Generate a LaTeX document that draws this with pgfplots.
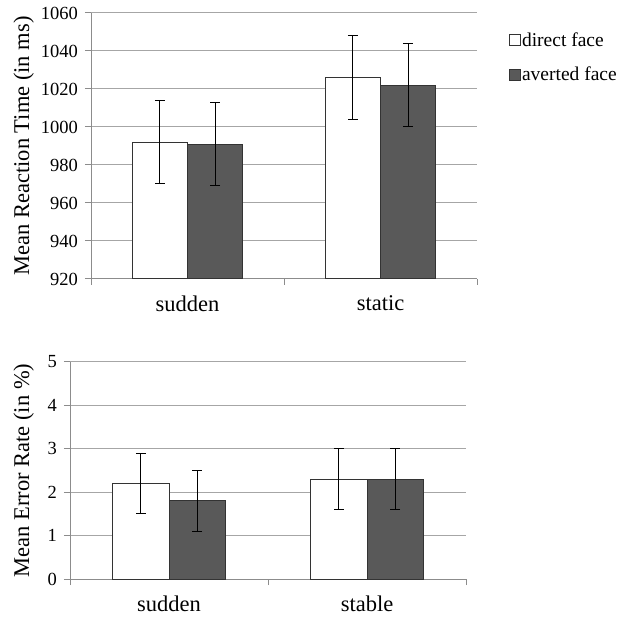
\documentclass[border=0pt]{standalone}
\usepackage{fontspec}
\setmainfont{Liberation Serif}
\usepackage{pgfplots}
\pgfplotsset{compat=1.18}
\definecolor{gridc}{RGB}{166,166,166}
\definecolor{axisc}{RGB}{140,140,140}
\definecolor{darkbar}{RGB}{89,89,89}
\pgfplotsset{
 mystyle/.style={
  scale only axis,
  /pgf/number format/assume math mode=true,
  /pgf/number format/1000 sep={},
  axis x line*=bottom, axis y line*=left,
  axis line style={axisc, line width=1bp, -},
  xmin=-0.5, xmax=1.5,
  xtick={-0.5,0.5,1.5}, xticklabels={,,},
  extra x tick style={tick style={draw=none}, xticklabel style={yshift=-7bp, font=\fontsize{22.5bp}{26bp}\selectfont}},
  ymajorgrids, major grid style={gridc, line width=1bp},
  tick align=outside, major tick length=6bp,
  tick style={axisc, line width=1bp},
  ticklabel style={font=\fontsize{18.5bp}{22bp}\selectfont, black},
  yticklabel style={xshift=-3.5bp},
  label style={font=\fontsize{22.5bp}{26bp}\selectfont},
  ybar, bar width=0.285,
  clip=false,
 },
 barA/.style={bar shift=0pt, draw=black!80, fill=white, line width=1bp,
   legend image code/.code={\draw[draw=black!80, fill=white, line width=0.8bp] (0bp,-5.5bp) rectangle (11bp,5.5bp);}},
 barB/.style={bar shift=0pt, draw=black!80, fill=darkbar, line width=1bp,
   legend image code/.code={\draw[draw=black!80, fill=darkbar, line width=0.8bp] (0bp,-5.5bp) rectangle (11bp,5.5bp);}},
 eb/.style={error bars/.cd, y dir=both, y explicit,
   error bar style={black, line width=1bp},
   error mark options={rotate=90, mark size=5bp, black, line width=1bp}},
}
\begin{document}
\begin{tikzpicture}
\path (0bp,0bp) rectangle (630bp,618bp);
\begin{axis}[mystyle,
  at={(91bp,339bp)}, anchor=south west,
  width=386bp, height=266bp,
  ymin=920, ymax=1060, ytick={920,940,...,1060},
  extra x ticks={0,1}, extra x tick labels={sudden,static},
  ylabel={Mean Reaction Time (in ms)},
  ylabel style={at={(axis description cs:-0.174,0.5)}, anchor=center},
  legend style={at={(rel axis cs:1.074,0.94)}, anchor=north west, draw=none, fill=none,
    font=\fontsize{19.5bp}{23bp}\selectfont, row sep=16bp, nodes={inner sep=1.5bp}},
  legend cell align=left,
]
\addplot[barA, eb] coordinates {(-0.1425,992) +- (0,22) (0.8575,1026) +- (0,22)};
\addplot[barB, eb] coordinates {(0.1425,991) +- (0,22) (1.1425,1022) +- (0,22)};
\legend{direct face, averted face}
\end{axis}
\begin{axis}[mystyle,
  at={(70bp,39bp)}, anchor=south west,
  width=396bp, height=217bp,
  ymin=0, ymax=5, ytick={0,1,...,5},
  extra x ticks={0,1}, extra x tick labels={sudden,stable},
  ylabel={Mean Error Rate (in \%)},
  ylabel style={at={(axis description cs:-0.117,0.5)}, anchor=center},
]
\addplot[barA, eb] coordinates {(-0.1425,2.2) +- (0,0.7) (0.8575,2.3) +- (0,0.7)};
\addplot[barB, eb] coordinates {(0.1425,1.8) +- (0,0.7) (1.1425,2.3) +- (0,0.7)};
\end{axis}
\end{tikzpicture}
\end{document}
